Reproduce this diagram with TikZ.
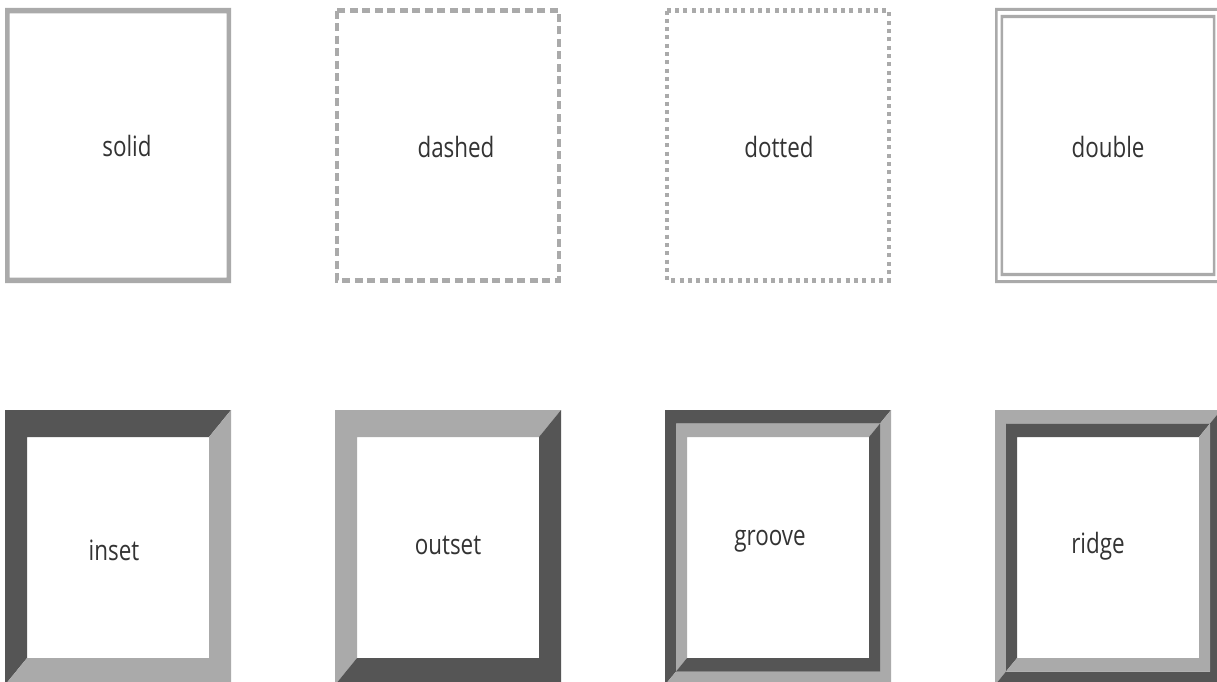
\documentclass[tikz,border=0pt]{standalone}
\usepackage{fontspec}
\setmainfont[FakeStretch=0.8]{Open Sans}
\definecolor{lightb}{HTML}{AAAAAA}
\definecolor{darkb}{HTML}{555555}
\definecolor{txt}{HTML}{333333}
\newcommand{\bevelbox}[8]{% x y w h tx ty tlcolor brcolor
  \fill[#7] (#1,#2) -- ++(#3,0) -- ++(-#5,#6) -- ($(#1,#2)+(#5,#6)$) -- ($(#1,#2)+(#5,#4-#6)$) -- (#1,#2+#4) -- cycle;
  \fill[#8] (#1+#3,#2) -- (#1+#3,#2+#4) -- (#1,#2+#4) -- ($(#1,#2)+(#5,#4-#6)$) -- ($(#1,#2)+(#3-#5,#4-#6)$) -- ($(#1,#2)+(#3-#5,#6)$) -- cycle;
}
\usetikzlibrary{calc}
\tikzset{lab/.style={font=\fontsize{28}{32}\selectfont, text=txt, inner sep=0pt}}
\begin{document}
\begin{tikzpicture}[x=1pt,y=-1pt]
\useasboundingbox (0,0) rectangle (1217,682);
\fill[white] (0,0) rectangle (1217,682);
\begin{scope}
\clip (0,0) rectangle (1217,682);
% solid
\fill[lightb,even odd rule] (5,8) rectangle (231,283) (9.5,13.3) rectangle (226.5,277.7);
% dashed
\draw[lightb,line width=4.5pt,dash pattern=on 8pt off 4.5pt] (337.2,10.6) rectangle (558.8,280.4);
% dotted
\draw[lightb,line width=4.5pt,dash pattern=on 4pt off 4.3pt] (667.2,10.6) rectangle (888.8,280.4);
% double
\fill[lightb,even odd rule] (995,8) rectangle (1221,283) (997.5,11) rectangle (1218.5,280);
\fill[lightb,even odd rule] (1000.6,15) rectangle (1215.4,276) (1003.2,18.2) rectangle (1212.8,272.8);
% inset
\bevelbox{5}{410}{226}{275}{22}{27}{darkb}{lightb}
% outset
\bevelbox{335}{410}{226}{275}{22}{27}{lightb}{darkb}
% groove
\bevelbox{665}{410}{226}{275}{11}{13.5}{darkb}{lightb}
\bevelbox{676}{423.5}{204}{248}{11}{13.5}{lightb}{darkb}
% ridge
\bevelbox{995}{410}{226}{275}{11}{13.5}{lightb}{darkb}
\bevelbox{1006}{423.5}{204}{248}{11}{13.5}{darkb}{lightb}
\end{scope}
\node[lab] (solid) at (127,146) {solid};
\node[lab] (dashed) at (456,147) {dashed};
\node[lab] (dotted) at (779,147) {dotted};
\node[lab] (double) at (1108,147) {double};
\node[lab] (inset) at (114,550) {inset};
\node[lab] (outset) at (448,545) {outset};
\node[lab] (groove) at (770,541) {groove};
\node[lab] (ridge) at (1098,546) {ridge};
\end{tikzpicture}
\end{document}
